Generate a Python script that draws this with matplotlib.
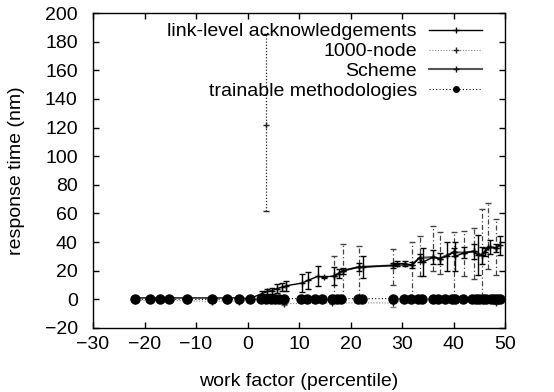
import matplotlib
matplotlib.use("Agg")
import matplotlib.pyplot as plt
from matplotlib.lines import Line2D
import numpy as np

plt.rcParams['font.family'] = ['Liberation Sans', 'DejaVu Sans']

# link-level acknowledgements (solid, + markers, solid error bars)
link_x = [-21.8, -18.9, -16.9, -15.2, -11.8, -6.8, -3.9, -1.5, 0.4, 2.8, 3.8, 4.7, 5.7, 6.7, 7.5,
          10.6, 11.8, 13.6, 14.8, 16.8, 17.7, 18.5, 21.6, 22.4, 28.3, 29.0, 30.5, 31.9, 33.4, 34.0,
          36.1, 37.3, 38.7, 40.0, 40.3, 42.1, 43.9, 44.8, 45.5, 46.1, 47.1, 48.3, 49.0]
link_y = [1.0, 1.0, 1.0, 1.0, 1.0, 1.0, 1.0, 1.0, 0.5, 4.0, 5.5, 6.0, 7.5, 8.5, 9.5,
          11.4, 13.3, 16.0, 15.6, 16.3, 18.0, 20.0, 22.6, 22.6, 23.7, 25.0, 25.0, 24.0, 29.0, 26.0,
          29.5, 28.5, 30.0, 33.0, 30.0, 32.6, 33.5, 30.7, 30.7, 33.0, 36.5, 36.0, 37.7]
link_err = [0.5, 0.5, 0.5, 0.5, 0.5, 0.5, 0.5, 0.5, 0.5, 2.0, 2.0, 2.0, 3.0, 3.0, 3.5,
            6.0, 6.0, 7.0, 1.0, 6.0, 3.0, 2.0, 3.0, 7.5, 1.5, 2.0, 1.5, 2.0, 3.0, 10.0,
            5.0, 4.0, 10.0, 3.0, 10.0, 4.0, 5.0, 14.0, 6.0, 3.0, 5.0, 3.0, 6.5]

# 1000-node (dotted grey, + markers)
node_x = [-21.8, -18.9, -16.9, -11.8, -6.8, -3.9, -1.6, 0.4, 7.0, 16.5, 28.3, 31.8, 40.0, 48.2, 49.0]
node_y = [-1.0, -0.5, -0.5, -1.0, -1.5, -1.0, -1.5, 0.0, -3.0, -2.5, -2.5, 0.0, 0.0, -2.5, 0.0]
node_err = [0.5, 0.5, 0.5, 0.5, 0.5, 0.5, 0.5, 0.5, 1.0, 1.0, 2.5, 0.5, 0.5, 1.0, 0.5]
# isolated 1000-node measurement
outlier_x = [3.5]
outlier_y = [122.0]
outlier_lo = [62.0]
outlier_hi = [185.0]

# Scheme (solid grey, + markers, dash-dot error bars)
scheme_x = [16.8, 18.5, 21.6, 28.3, 31.9, 33.4, 36.1, 37.3, 40.0, 42.1, 43.9, 45.5, 46.7, 48.3]
scheme_y = [16.3, 20.0, 22.6, 23.7, 24.0, 29.0, 29.5, 28.5, 33.0, 32.6, 33.5, 31.0, 36.5, 36.0]
scheme_lo = [0.0, 0.0, 1.0, 10.0, 0.0, 16.0, 20.0, 18.0, 0.0, 16.0, 14.0, 2.0, 21.0, 17.0]
scheme_hi = [30.5, 38.5, 37.5, 35.0, 40.0, 44.5, 51.5, 47.0, 47.0, 48.0, 49.5, 63.0, 67.0, 56.0]

# trainable methodologies (dotted, filled circles)
train_x = [-21.8, -18.9, -17.0, -15.2, -11.8, -6.8, -3.9, -1.6, 0.4, 2.6, 3.5, 4.5, 5.3, 6.2, 7.0,
           10.4, 11.6, 13.2, 14.5, 16.5, 17.3, 18.2, 21.4, 22.2, 28.2, 30.4, 31.8, 33.2, 33.8,
           36.0, 37.0, 38.3, 39.8, 40.3, 41.8, 43.6, 44.4, 45.0, 45.8, 46.4, 47.2, 47.8, 48.5, 49.0]
train_y = [0.0, 0.0, 0.0, 0.0, 0.0, 0.0, 0.0, 0.0, 0.0, 0.0, 0.5, 0.5, 0.5, 0.5, 0.5,
           0.5, 0.5, 0.5, 0.5, 0.5, 0.5, 0.5, 0.5, 0.5, 0.5, 0.5, 0.5, 0.5, 0.5,
           0.5, 0.5, 0.5, 0.5, 0.5, 0.0, 0.5, 0.5, 0.5, 0.5, 0.5, 0.5, 0.5, 0.5, 0.5]

labels = ['link-level acknowledgements', '1000-node', 'Scheme', 'trainable methodologies']

fig = plt.figure(figsize=(5.54, 3.92), dpi=100)
ax = fig.add_axes([93/554, 64/392, 412/554, 315/392])

fs = 14

dotted = (0, (1, 1.5))
dashdot = (0, (4, 2, 1, 2))

# 1000-node
ax.errorbar(node_x, node_y, yerr=node_err, color='#888888', lw=0.8, ls=dotted,
            marker='+', ms=5, mew=1, mec='#222222', capsize=2.5, elinewidth=0.8, zorder=2)
eb = ax.errorbar(outlier_x, outlier_y,
                 yerr=[np.subtract(outlier_y, outlier_lo), np.subtract(outlier_hi, outlier_y)],
                 color='#222222', ls='none', marker='+', ms=5, mew=1, capsize=2.5, elinewidth=0.9, zorder=2)
for lc in eb[2]:
    lc.set_linestyle(dotted)

# Scheme
scheme_yerr = [np.subtract(scheme_y, scheme_lo), np.subtract(scheme_hi, scheme_y)]
eb = ax.errorbar(scheme_x, scheme_y, yerr=scheme_yerr, color='#555555', lw=1.5,
                 marker='+', ms=5, mew=1, mec='#111111', capsize=2.5, elinewidth=0.9, ecolor='#444444',
                 zorder=3)
for lc in eb[2]:
    lc.set_linestyle(dashdot)

# link-level acknowledgements
ax.errorbar(link_x, link_y, yerr=link_err, color='black', lw=1.0,
            marker='+', ms=5, mew=1, capsize=2.5, elinewidth=1.0, zorder=4)

# trainable methodologies
ax.plot(train_x, train_y, color='black', lw=0.8, ls=(0, (1, 2)), marker='o', ms=6.5, zorder=5)

ax.set_xlim(-30, 50)
ax.set_ylim(-20, 200)
ax.set_xticks(np.arange(-30, 51, 10))
ax.set_yticks(np.arange(-20, 201, 20))
ax.tick_params(direction='in', length=4, width=1, top=True, right=True, labelsize=fs)
ax.tick_params(axis='y', pad=11)
ax.tick_params(axis='x', pad=6)
for s in ax.spines.values():
    s.set_linewidth(1.0)

ax.set_xlabel('work factor (percentile)', fontsize=fs, labelpad=14)
ax.set_ylabel('response time (nm)', fontsize=fs, labelpad=14)

handles = [
    Line2D([], [], color='black', lw=1.0, marker='+', ms=5, mew=1),
    Line2D([], [], color='#888888', lw=0.8, ls=dotted, marker='+', ms=5, mew=1, mec='#222222'),
    Line2D([], [], color='#555555', lw=1.5, marker='+', ms=5, mew=1, mec='#111111'),
    Line2D([], [], color='black', lw=0.8, ls=(0, (1, 2)), marker='o', ms=4),
]
leg = ax.legend(handles, labels, loc='upper right', bbox_to_anchor=(0.944, 0.969),
                markerfirst=False, frameon=False, borderpad=0, borderaxespad=0,
                handlelength=2.7, handletextpad=0.65, labelspacing=0.12, fontsize=fs)

fig.savefig('out.png', dpi=100)
